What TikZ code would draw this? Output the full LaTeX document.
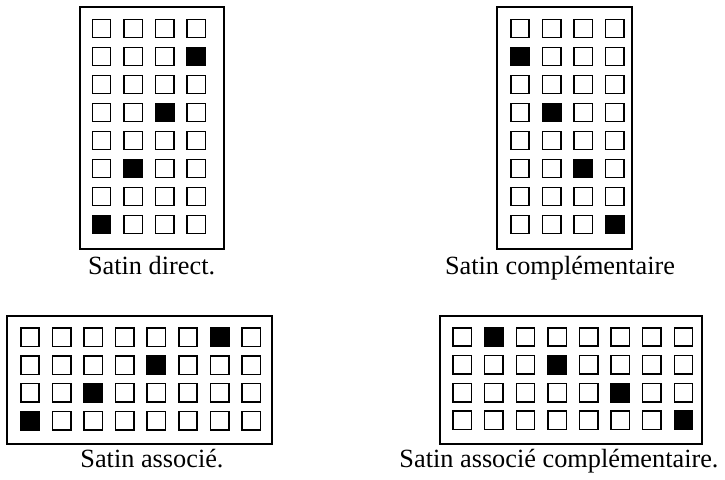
\documentclass[tikz,border=0pt]{standalone}
\usepackage{fontspec}
\setmainfont{Liberation Serif}
\begin{document}
\begin{tikzpicture}[
  cell/.style={draw, line width=1.1pt, minimum size=0.46cm, inner sep=0pt},
  cellon/.style={cell, fill=black},
  frame/.style={draw, line width=1.4pt, inner sep=0pt},
  caption/.style={anchor=base, inner sep=0pt, font=\fontsize{18.7}{22}\selectfont}]
\useasboundingbox (0,0) rectangle (18.125,11.975);

% satin direct
\node[frame, minimum width=3.6cm, minimum height=6.05cm] (fd) at (3.8,8.775) {};
\foreach \r in {1,...,8}
  \foreach \c in {1,...,4}
    \node[cell] (d-\r-\c) at ({2.5375+0.79*(\c-1)},{11.2625-0.7*(\r-1)}) {};
\foreach \r/\c in {2/4,4/3,6/2,8/1}
  \node[cellon] (don-\r) at ({2.5375+0.79*(\c-1)},{11.2625-0.7*(\r-1)}) {};
\node[caption] (ld) at (3.79,5.1) {Satin direct.};

% satin complementaire
\node[frame, minimum width=3.38cm, minimum height=6.05cm] (fc) at (14.12,8.775) {};
\foreach \r in {1,...,8}
  \foreach \c in {1,...,4}
    \node[cell] (c-\r-\c) at ({13.0+0.79*(\c-1)},{11.2625-0.7*(\r-1)}) {};
\foreach \r/\c in {2/1,4/2,6/3,8/4}
  \node[cellon] (con-\r) at ({13.0+0.79*(\c-1)},{11.2625-0.7*(\r-1)}) {};
\node[caption] (lc) at (14.0,5.1) {Satin complémentaire};

% satin associe
\node[frame, minimum width=6.62cm, minimum height=3.215cm] (fa) at (3.48,2.475) {};
\foreach \r in {1,...,4}
  \foreach \c in {1,...,8}
    \node[cell] (a-\r-\c) at ({0.75+0.79*(\c-1)},{3.5425-0.695*(\r-1)}) {};
\foreach \r/\c in {1/7,2/5,3/3,4/1}
  \node[cellon] (aon-\r) at ({0.75+0.79*(\c-1)},{3.5425-0.695*(\r-1)}) {};
\node[caption] (la) at (3.8,0.3) {Satin associé.};

% satin associe complementaire
\node[frame, minimum width=6.56cm, minimum height=3.215cm] (fac) at (14.28,2.475) {};
\foreach \r in {1,...,4}
  \foreach \c in {1,...,8}
    \node[cell] (ac-\r-\c) at ({11.5575+0.79*(\c-1)},{3.55-0.695*(\r-1)}) {};
\foreach \r/\c in {1/2,2/4,3/6,4/8}
  \node[cellon] (acon-\r) at ({11.5575+0.79*(\c-1)},{3.55-0.695*(\r-1)}) {};
\node[caption] (lac) at (13.975,0.3) {Satin associé complémentaire.};
\end{tikzpicture}
\end{document}
